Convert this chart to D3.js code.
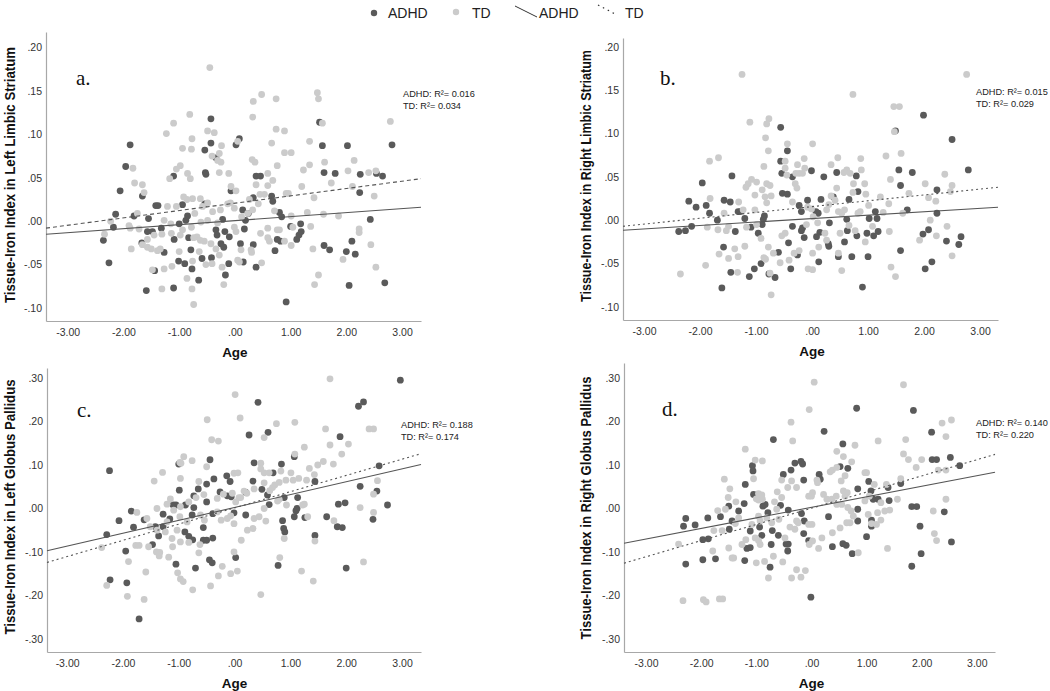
<!DOCTYPE html>
<html><head><meta charset="utf-8">
<script src="https://cdn.jsdelivr.net/npm/d3@7"></script>
<style>body{margin:0;background:#fff;} svg{display:block;}</style>
</head><body>
<svg id="chart" width="1050" height="691"></svg>
<script>
// ---------- DATA ----------
const xTicks = [-3, -2, -1, 0, 1, 2, 3];
const yTicksStriatum = [-0.10, -0.05, 0, 0.05, 0.10, 0.15, 0.20];
const yTicksPallidus = [-0.30, -0.20, -0.10, 0, 0.10, 0.20, 0.30];
const panelLetters = ["a.", "b.", "c.", "d."];
const yTitles = ["Tissue-Iron Index in Left Limbic Striatum", "Tissue-Iron Index in Right Limbic Striatum",
                 "Tissue-Iron Index in Left Globus Pallidus", "Tissue-Iron Index in Right Globus Pallidus"];
const r2Adhd = ["0.016", "0.015", "0.188", "0.140"];
const r2Td = ["0.034", "0.029", "0.174", "0.220"];
const legendLabels = ["ADHD", "TD", "ADHD", "TD"];

const adhdA = [[-1.88,.088],[-1.96,.063],[-2.06,.035],[-2.14,.008],[-2.18,-.007],[-2.36,-.022],[-2.26,-.048],[-1.81,.006],[-1.66,.029],[-1.55,.003],[-1.67,-.025],[-1.59,-.080],[-1.57,-.012],[-1.48,-.012],[-1.42,.018],[-1.38,.018],[-1.44,-.057],[-1.32,-.008],[-1.27,-.036],[-1.09,-.021],[-1.10,.052],[-1.10,-.077],[-1.01,-.046],[-1.00,-.003],[-.94,.019],[-.90,-.049],[-.88,.001],[-.85,.006],[-.83,-.019],[-.79,-.033],[-.77,-.055],[-.65,-.068],[-.59,-.043],[-.53,.056],[-.52,.054],[-.54,.082],[-.54,.020],[-.43,.118],[-.43,.090],[-.42,-.042],[-.34,.073],[-.34,-.010],[-.32,-.016],[-.25,-.026],[-.22,.002],[-.20,-.030],[-.18,-.012],[-.17,-.062],[-.11,-.049],[-.10,-.018],[-.07,.035],[.02,.088],[.08,.095],[.10,-.026],[.15,-.047],[.14,.013],[.17,-.009],[.19,.001],[.24,.009],[.33,-.027],[.33,.027],[.38,.052],[.46,.052],[.38,-.053],[.66,.029],[.68,.023],[.72,-.034],[.76,-.021],[.80,.010],[.84,.005],[.82,-.023],[.92,-.093],[1.00,-.006],[1.11,-.021],[1.15,-.016],[1.18,-.003],[1.19,-.012],[1.52,.114],[1.57,.087],[1.60,.056],[1.60,-.028],[1.70,-.033],[1.80,.055],[2.02,.087],[2.00,-.035],[2.05,-.074],[2.10,-.023],[2.16,-.038],[2.25,.054],[2.24,.033],[2.43,.002],[2.54,.055],[2.65,.052],[2.69,-.071],[2.82,.088]];
const tdA = [[-.45,.177],[-.81,.123],[-1.10,.113],[-1.23,.101],[-.49,.104],[-.37,.102],[-.77,.095],[-.94,.084],[-.78,.083],[-.24,.087],[-.41,.075],[-.28,.078],[-.31,.070],[-.25,.068],[-.98,.064],[-1.05,.060],[-.85,.055],[-.80,.049],[-1.17,.049],[-1.83,.061],[-1.80,.044],[-1.66,.042],[-1.63,.033],[-.28,.056],[-.11,.055],[-.07,.040],[.02,.035],[.05,.092],[.32,.120],[.33,.138],[.48,.146],[.74,.141],[.74,.106],[.89,.104],[.66,.090],[.89,.079],[1.01,.079],[.31,.071],[.36,.068],[.76,.064],[.59,.055],[.68,.047],[.38,.042],[.59,.041],[.45,.031],[.53,.031],[.92,.032],[.96,.032],[.42,.020],[.26,.025],[1.48,.148],[1.50,.141],[1.57,.113],[1.34,.092],[1.61,.068],[1.34,.065],[1.23,.059],[1.73,.044],[1.20,.040],[1.42,.027],[2.14,.070],[2.03,.058],[2.11,.040],[2.40,.056],[2.53,.058],[2.50,.029],[2.79,.115],[1.86,.006],[1.59,.008],[1.30,.010],[1.36,-.006],[2.23,-.009],[2.23,-.013],[2.44,-.027],[2.53,-.053],[1.94,-.044],[1.40,-.032],[1.50,-.062],[1.43,-.073],[1.01,.006],[1.04,-.007],[1.01,-.028],[.89,-.023],[.80,-.010],[.76,-.010],[.59,-.008],[.59,-.019],[.62,-.023],[.46,-.014],[.48,-.048],[.71,.012],[.32,.013],[.29,-.033],[.23,.009],[-.01,.015],[-.08,.021],[-.13,.020],[-.26,.013],[-.40,.011],[-.49,.021],[-.58,.017],[-.62,.026],[-.76,.026],[-.86,.025],[-.72,.009],[-.61,-.001],[-.49,.001],[-.31,-.002],[-.01,-.007],[.02,-.012],[.12,.005],[-1.05,.017],[-1.21,.017],[-1.27,.001],[-1.15,-.003],[-.94,-.010],[-.78,-.007],[-.68,-.018],[-.62,-.022],[-.55,-.023],[-.74,-.019],[-.98,-.016],[-1.14,-.014],[-1.31,-.015],[-1.45,-.016],[-1.57,-.021],[-1.57,-.030],[-1.50,-.032],[-1.39,-.034],[-1.34,-.032],[-1.48,-.056],[-1.27,-.055],[-1.13,-.052],[-1.31,-.078],[-.86,-.066],[-.77,-.078],[-.74,-.096],[-.52,-.050],[-.41,-.049],[-.28,-.039],[-.23,-.053],[-.20,-.073],[.05,-.045],[.08,-.047],[-.92,.028],[-1.86,-.032],[-1.90,-.005],[-1.88,-.008],[-1.75,.009],[-2.23,.000],[-2.34,-.015],[-1.72,-.009],[-1.66,-.027],[-.76,-.046],[-.64,-.035],[-.43,-.026],[-.34,-.032],[.11,-.033],[-1.00,-.035],[.30,-.036]];

const adhdB = [[-2.38,-.013],[-2.26,-.012],[-2.20,.022],[-2.15,-.007],[-2.07,.015],[-1.96,.043],[-1.89,.017],[-1.83,.008],[-1.69,.000],[-1.57,.023],[-1.58,-.031],[-1.61,-.078],[-1.46,.021],[-1.43,.051],[-1.45,-.060],[-1.37,-.013],[-1.32,.010],[-1.28,.010],[-1.20,.002],[-1.12,-.065],[-1.09,-.008],[-1.03,-.056],[-.96,-.015],[-.91,-.050],[-.89,-.005],[-.87,.001],[-.85,.005],[-.77,-.062],[-.66,-.066],[-.60,-.037],[-.56,.107],[-.56,.068],[-.54,.054],[-.53,.031],[-.44,.030],[-.44,.080],[-.42,-.026],[-.38,-.056],[-.35,.050],[-.35,-.007],[-.23,.017],[-.19,.010],[-.19,-.012],[-.17,-.009],[-.26,-.040],[-.14,-.020],[-.08,.023],[-.01,.057],[.07,.010],[.08,-.019],[.11,.008],[.12,-.048],[.14,-.014],[.16,.024],[.21,.050],[.29,-.027],[.30,-.030],[.31,-.003],[.38,.027],[.44,.055],[.47,-.042],[.58,-.025],[.62,.001],[.63,-.012],[.66,.024],[.71,-.042],[.79,.051],[.80,-.018],[.82,.033],[.90,-.077],[.98,-.015],[1.00,-.042],[1.02,.002],[1.10,-.018],[1.13,.010],[1.16,.002],[1.18,-.013],[1.49,.103],[1.55,.058],[1.58,.040],[1.58,-.035],[1.70,.012],[1.79,.055],[1.99,.121],[1.98,-.016],[2.02,-.056],[2.08,-.011],[2.14,-.048],[2.23,.035],[2.23,.008],[2.40,-.024],[2.50,.093],[2.62,-.028],[2.66,-.019],[2.79,.058]];
const tdB = [[-1.25,.168],[2.76,.168],[.73,.145],[1.46,.131],[1.56,.131],[1.47,.102],[1.59,.077],[1.32,.074],[-1.11,.113],[-.77,.117],[-.81,.111],[-.83,.095],[-.78,.080],[-.86,.062],[-1.67,.072],[-1.83,.068],[-.44,.088],[-.48,.068],[-.26,.064],[-.14,.071],[.01,.088],[.34,.064],[.46,.072],[.87,.071],[1.40,.047],[1.73,.031],[2.02,.042],[2.37,.053],[2.50,.040],[2.47,.033],[2.08,.026],[2.21,.022],[2.11,.000],[2.22,-.018],[2.41,-.007],[2.50,-.041],[1.41,-.054],[1.49,-.065],[1.38,-.013],[1.62,.008],[1.92,-.023],[-1.08,.047],[-1.14,.042],[-1.02,.029],[-1.18,.038],[-.99,.044],[-.89,.035],[-.81,.042],[-.84,.027],[-.75,.040],[-.73,.028],[-.81,.020],[-.48,.060],[-.45,.052],[-.29,.054],[-.23,.054],[-.17,.054],[-.30,.042],[-.35,.021],[-.27,.037],[-.13,.060],[-.08,.015],[-.01,.013],[.02,.004],[.10,-.003],[-.10,-.005],[.26,.012],[.30,.018],[.34,.028],[.41,.023],[.44,.037],[.57,.055],[.62,.058],[.68,.054],[.74,.042],[.73,.032],[.88,.058],[.94,.042],[.96,.030],[1.01,.017],[.86,.010],[.82,.008],[1.22,.027],[1.27,.009],[.53,.008],[.58,.012],[.47,.010],[.66,-.006],[.77,-.012],[.95,-.025],[1.08,-.007],[.50,-.015],[.47,-.038],[.53,-.058],[.23,-.015],[.26,-.023],[.12,-.031],[.01,-.038],[-.07,-.056],[.01,-.057],[-.23,-.035],[-.32,-.038],[-.41,-.046],[-.48,-.015],[-.54,-.018],[-.57,-.049],[-.69,-.038],[-.78,-.031],[-.86,-.043],[-.83,-.045],[-.75,-.061],[-.73,-.086],[-.91,-.021],[-.99,-.005],[-1.17,-.008],[-1.20,-.030],[-1.32,-.042],[-1.38,-.033],[-1.49,-.044],[-1.53,-.012],[-1.49,-.007],[-1.68,-.011],[-1.66,-.039],[-1.90,-.052],[-2.35,-.062],[-1.87,-.008],[-1.82,.025],[-1.57,.008],[-1.31,.021],[-1.23,.012],[-1.33,-.060],[-1.02,.012],[1.37,.019]];

const adhdC = [[2.97,.295],[2.22,.235],[2.31,.245],[.42,.244],[.26,.169],[.60,.175],[1.89,.165],[1.07,.119],[-.44,.112],[.35,.105],[.84,.102],[.69,.082],[2.59,.098],[-2.24,.087],[-1.00,.102],[-.14,.075],[-.08,.062],[-.37,.068],[-.50,.056],[.33,.063],[1.44,.062],[-.65,.045],[-.99,.042],[-.26,.038],[.20,.037],[.49,.044],[2.25,.051],[2.55,.040],[-.13,.029],[-.06,.027],[-.73,.029],[-.50,.015],[.59,.031],[.89,.025],[1.13,.025],[-1.10,.008],[-1.05,.008],[-.73,.002],[-.88,.008],[1.12,.000],[1.10,-.005],[1.86,.010],[1.98,.013],[2.74,.008],[.62,.009],[-1.85,-.006],[-2.07,-.028],[-1.81,-.043],[-1.62,-.026],[-1.28,-.013],[-1.16,-.024],[-.76,-.015],[-.39,-.012],[-.01,-.010],[.20,-.015],[1.07,-.019],[1.26,-.021],[1.65,-.019],[2.48,-.025],[.86,-.028],[-1.42,-.042],[-1.28,-.042],[-.56,-.044],[-.89,-.054],[.88,-.046],[.90,-.054],[1.84,-.042],[1.93,-.044],[-1.36,-.063],[-.82,-.064],[-.56,-.073],[-.50,-.073],[-.39,-.068],[-.75,-.072],[-1.47,-.083],[-2.29,-.060],[-1.95,-.098],[-.45,-.118],[-.40,-.125],[.02,-.113],[-1.05,-.128],[-.70,-.137],[.78,-.131],[1.44,-.062],[2.00,-.137],[-2.23,-.164],[-1.93,-.171],[-1.71,-.254]];
const tdC = [[1.71,.298],[.01,.262],[.10,.208],[-.49,.204],[1.08,.198],[.75,.195],[1.63,.183],[2.41,.183],[2.49,.183],[-.41,.158],[-.29,.155],[.53,.163],[1.71,.146],[2.04,.148],[1.25,.141],[-.91,.119],[-.76,.110],[1.08,.125],[1.92,.125],[-.98,.106],[-.96,.104],[-.50,.096],[-1.29,.083],[-1.44,.063],[-.97,.069],[-.64,.062],[-.01,.081],[.06,.082],[.47,.104],[.47,.091],[.53,.082],[.62,.082],[.83,.086],[1.01,.082],[1.05,.065],[.92,.065],[1.15,.069],[1.43,.078],[1.34,.092],[1.49,.100],[1.59,.108],[1.77,.102],[1.29,.065],[.80,.060],[.72,.054],[.53,.059],[.68,.048],[.63,.041],[.35,.045],[.17,.040],[.22,.035],[.11,.025],[.08,.025],[-.04,.035],[-.31,.023],[-.20,.033],[-.55,.032],[-.69,.025],[-.82,.015],[-.97,.004],[-1.15,.022],[-1.21,.010],[-1.09,-.004],[-1.39,.000],[-1.75,-.009],[-1.57,-.023],[-1.51,-.042],[-1.39,-.050],[-1.21,-.031],[-1.24,-.054],[-1.12,-.069],[-1.03,-.050],[-.98,-.019],[-.85,-.031],[-.61,-.015],[-.54,-.027],[-.31,-.008],[-.24,-.027],[-.13,-.023],[-.07,-.017],[-.01,-.035],[.02,.015],[.35,-.023],[.44,-.019],[.33,-.046],[.23,-.050],[.56,-.029],[.53,.000],[.77,.017],[.80,.021],[.93,.008],[1.22,.008],[1.25,.010],[1.31,-.019],[1.78,-.028],[2.25,.002],[2.49,.033],[2.49,-.009],[2.56,.064],[2.31,-.123],[1.44,-.075],[.89,-.069],[.81,-.113],[1.20,-.144],[1.41,-.167],[.47,-.198],[.12,-.073],[-.01,-.100],[.05,-.144],[-.07,-.150],[-.22,-.133],[-.29,-.155],[-.43,-.178],[-.75,-.187],[-.97,-.162],[-.92,-.168],[-1.02,-.148],[-.64,-.102],[-.62,-.083],[-.82,-.078],[-.97,-.077],[-1.11,-.088],[-1.18,-.112],[-1.35,-.109],[-1.40,-.100],[-1.34,-.101],[-1.54,-.088],[-1.77,-.085],[-1.71,-.085],[-1.90,-.122],[-1.59,-.146],[-2.29,-.177],[-1.92,-.202],[-1.62,-.209],[-2.38,-.090]];

const adhdD = [[.82,.230],[1.85,.225],[.23,.177],[-.69,.158],[2.18,.175],[.57,.148],[2.19,.112],[2.27,.112],[2.52,.117],[2.69,.098],[-.30,.104],[-.19,.108],[-.16,.102],[-1.07,.098],[-1.06,.086],[.52,.096],[.66,.092],[-.51,.078],[-.37,.088],[.14,.078],[.16,.067],[-.14,.065],[-1.20,.055],[1.04,.062],[1.62,.057],[.84,.045],[1.39,.048],[1.08,.040],[-1.05,.032],[1.12,.021],[1.21,.021],[1.41,.018],[-1.22,.011],[-.88,.005],[-.84,.009],[-.56,.007],[-1.50,.005],[1.82,.004],[1.91,.004],[.84,-.002],[-1.32,-.006],[-.79,-.010],[-.42,-.004],[-.18,-.012],[-1.65,-.019],[-1.88,-.022],[-2.28,-.023],[.31,-.019],[2.41,-.008],[-2.32,-.041],[-2.11,-.038],[-1.44,-.029],[-.94,-.043],[-1.11,-.052],[-.71,-.051],[-.13,-.029],[.84,-.029],[1.09,-.027],[1.09,-.041],[1.97,-.041],[-1.49,-.048],[-.90,-.062],[-.60,-.062],[-.14,-.058],[1.00,-.065],[-1.97,-.072],[-1.87,-.070],[-.73,-.083],[-.46,-.082],[-.42,-.082],[-.05,-.074],[.57,-.081],[.63,-.085],[.38,-.088],[-1.17,-.092],[-1.11,-.090],[-.43,-.098],[.74,-.104],[1.99,-.104],[2.54,-.077],[-1.97,-.118],[-1.74,-.116],[-1.21,-.120],[-.75,-.135],[-2.28,-.128],[1.82,-.133],[-.01,-.204]];
const tdD = [[.05,.290],[1.67,.284],[-.04,.227],[2.37,.196],[2.54,.203],[-.37,.198],[-.34,.155],[1.21,.155],[1.71,.158],[2.44,.165],[.79,.145],[.46,.131],[.58,.119],[1.67,.125],[-1.20,.136],[-1.02,.111],[-.89,.109],[2.00,.112],[1.76,.112],[1.90,.094],[.73,.107],[.38,.088],[.34,.084],[.46,.094],[.97,.082],[1.00,.082],[2.30,.088],[2.44,.088],[1.62,.068],[1.36,.055],[.61,.075],[.54,.063],[.10,.065],[.11,.059],[-.54,.065],[-.36,.063],[-1.05,.068],[-1.58,.067],[-1.48,.045],[-.27,.048],[-.43,.048],[-.62,.038],[-.96,.034],[-.90,.031],[-1.51,.025],[-1.37,.015],[-1.00,.022],[-.96,.019],[-.89,.021],[-.67,.015],[-.54,.025],[-.05,.028],[.00,.028],[.02,.036],[.22,.032],[.28,.021],[.37,.021],[.45,.028],[.58,.040],[.65,.036],[.46,.009],[.55,.009],[.61,.028],[.66,.002],[.72,-.006],[.97,.017],[1.05,.028],[1.14,.055],[1.26,.013],[1.33,-.006],[1.42,-.004],[1.56,.021],[1.20,-.010],[1.09,-.035],[1.18,-.037],[1.26,-.027],[1.03,-.014],[2.21,-.006],[2.44,.021],[2.23,-.058],[2.27,-.074],[1.38,-.092],[.85,-.102],[.76,-.018],[.70,-.033],[.64,-.033],[.52,-.045],[.38,-.056],[.19,-.068],[.13,-.092],[.02,-.075],[-.04,-.083],[.01,-.037],[-.05,-.037],[-.27,-.029],[-.24,-.033],[-.30,-.048],[-.39,-.043],[-.48,-.068],[-.59,-.025],[-.63,-.002],[-.72,-.033],[-.81,-.022],[-.96,-.018],[-.93,-.029],[-1.08,-.037],[-1.02,-.068],[-.96,-.074],[-1.19,-.072],[-.93,-.083],[-1.26,-.083],[-1.00,-.125],[-.85,-.122],[-.69,-.110],[-.52,-.123],[-.78,-.160],[-.36,-.160],[-.27,-.141],[-.19,-.158],[-.11,-.143],[-1.41,-.114],[-1.44,-.114],[-1.50,-.091],[-1.38,-.035],[-1.56,-.002],[-1.70,-.005],[-1.62,-.051],[-1.77,-.051],[-1.79,-.098],[-2.41,-.082],[-1.32,-.022],[-2.33,-.212],[-1.96,-.210],[-1.91,-.215],[-1.67,-.208],[-1.61,-.208]];

// regression line end points (x, y)
const fitAdhdA = [[-3.39,-.015],[3.34,.016]], fitTdA = [[-3.39,-.008],[3.34,.049]];
const fitAdhdB = [[-3.375,-.0115],[3.32,.015]], fitTdB = [[-3.375,-.007],[3.32,.038]];
const fitAdhdC = [[-3.36,-.097],[3.34,.101]], fitTdC = [[-3.36,-.124],[3.34,.126]];
const fitAdhdD = [[-3.40,-.080],[3.33,.083]], fitTdD = [[-3.40,-.126],[3.33,.124]];

// ---------- LAYOUT ----------
const COL_ADHD = "#5a5a5a", COL_TD = "#cbcbcb", AXIS_COL = "#a8a8a8";
const panels = [
  {adhd: adhdA, td: tdA, fA: fitAdhdA, fT: fitTdA, yt: yTicksStriatum, tdDash: "4,3",
   L:46, R:421, T:32, B:321, xd:[-3.39,3.34], yd:[-0.115,0.218],
   letter:[76,85], r2:[403,97,109], titleX:15, titleY:175, titleLen:256},
  {adhd: adhdB, td: tdB, fA: fitAdhdB, fT: fitTdB, yt: yTicksStriatum, tdDash: "2,3",
   L:623, R:998, T:38, B:320, xd:[-3.375,3.32], yd:[-0.115,0.210],
   letter:[660,85], r2:[976,95,107], titleX:591, titleY:176, titleLen:252},
  {adhd: adhdC, td: tdC, fA: fitAdhdC, fT: fitTdC, yt: yTicksPallidus, tdDash: "2,3",
   L:47, R:421, T:368, B:652, xd:[-3.36,3.34], yd:[-0.330,0.323],
   letter:[77,417], r2:[401,428,440], titleX:15, titleY:507, titleLen:255},
  {adhd: adhdD, td: tdD, fA: fitAdhdD, fT: fitTdD, yt: yTicksPallidus, tdDash: "2,3",
   L:624, R:995, T:363, B:652, xd:[-3.40,3.33], yd:[-0.330,0.334],
   letter:[662,416], r2:[976,426,438], titleX:591, titleY:508, titleLen:263}
];

const svg = d3.select("#chart");
const fmt = v => d3.format(".2f")(v).replace("−", "-").replace(/^(-?)0\./, "$1.");
const SANS = "'Liberation Sans', Arial, Helvetica, sans-serif";

panels.forEach((p, i) => {
  const x = d3.scaleLinear().domain(p.xd).range([p.L, p.R]);
  const y = d3.scaleLinear().domain(p.yd).range([p.B, p.T]);
  const g = svg.append("g");

  // axes
  const xAxis = g.append("g").attr("transform", `translate(0,${p.B})`)
    .call(d3.axisBottom(x).tickValues(xTicks).tickFormat(fmt).tickSize(0).tickPadding(8));
  const yAxis = g.append("g").attr("transform", `translate(${p.L},0)`)
    .call(d3.axisLeft(y).tickValues(p.yt).tickFormat(fmt).tickSize(0).tickPadding(4));
  [xAxis, yAxis].forEach(a => {
    a.select(".domain").attr("stroke", AXIS_COL).attr("stroke-width", 1.2);
    a.selectAll("text").attr("font-family", SANS).attr("font-size", 10.5).attr("fill", "#333");
  });

  // points
  g.append("g").selectAll("circle").data(p.adhd).join("circle")
    .attr("cx", d => x(d[0])).attr("cy", d => y(d[1])).attr("r", 3.4).attr("fill", COL_ADHD);
  g.append("g").selectAll("circle").data(p.td).join("circle")
    .attr("cx", d => x(d[0])).attr("cy", d => y(d[1])).attr("r", 3.4).attr("fill", COL_TD);

  // fit lines
  const line = d3.line().x(d => x(d[0])).y(d => y(d[1]));
  g.append("path").attr("d", line(p.fA)).attr("stroke", "#555").attr("stroke-width", 1.1).attr("fill", "none");
  g.append("path").attr("d", line(p.fT)).attr("stroke", "#555").attr("stroke-width", 1.1)
    .attr("stroke-dasharray", p.tdDash).attr("fill", "none");

  // letter
  g.append("text").attr("x", p.letter[0]).attr("y", p.letter[1]).text(panelLetters[i])
    .attr("font-family", "'Liberation Serif', 'Times New Roman', serif").attr("font-size", 21).attr("fill", "#111");

  // R2 labels
  g.append("text").attr("x", p.r2[0]).attr("y", p.r2[1]).text(`ADHD: R²= ${r2Adhd[i]}`)
    .attr("font-family", SANS).attr("font-size", 9.2).attr("fill", "#222");
  g.append("text").attr("x", p.r2[0]).attr("y", p.r2[2]).text(`TD: R²= ${r2Td[i]}`)
    .attr("font-family", SANS).attr("font-size", 9.2).attr("fill", "#222");

  // axis titles
  g.append("text").attr("x", (x(0))).attr("y", p.B + 36).attr("text-anchor", "middle").text("Age")
    .attr("font-family", SANS).attr("font-weight", "bold").attr("font-size", 13.5).attr("fill", "#111");
  g.append("text").attr("transform", `translate(${p.titleX},${p.titleY}) rotate(-90)`)
    .attr("text-anchor", "middle").text(yTitles[i])
    .attr("font-family", SANS).attr("font-weight", "bold").attr("font-size", 14).attr("fill", "#111")
    .attr("textLength", p.titleLen).attr("lengthAdjust", "spacingAndGlyphs");
});

// legend
const lg = svg.append("g");
lg.append("circle").attr("cx", 374).attr("cy", 13).attr("r", 3.2).attr("fill", COL_ADHD);
lg.append("text").attr("x", 388).attr("y", 18).text(legendLabels[0]);
lg.append("circle").attr("cx", 456).attr("cy", 12).attr("r", 3.2).attr("fill", COL_TD);
lg.append("text").attr("x", 472).attr("y", 18).text(legendLabels[1]);
lg.append("line").attr("x1", 515).attr("y1", 6).attr("x2", 537).attr("y2", 17).attr("stroke", "#333").attr("stroke-width", 1);
lg.append("text").attr("x", 539).attr("y", 18).text(legendLabels[2]);
lg.append("line").attr("x1", 598).attr("y1", 5).attr("x2", 617).attr("y2", 15).attr("stroke", "#333")
  .attr("stroke-width", 1.2).attr("stroke-dasharray", "1.5,4");
lg.append("text").attr("x", 625).attr("y", 18).text(legendLabels[3]);
lg.selectAll("text").attr("font-family", SANS).attr("font-size", 14).attr("fill", "#222");
</script>
</body></html>
